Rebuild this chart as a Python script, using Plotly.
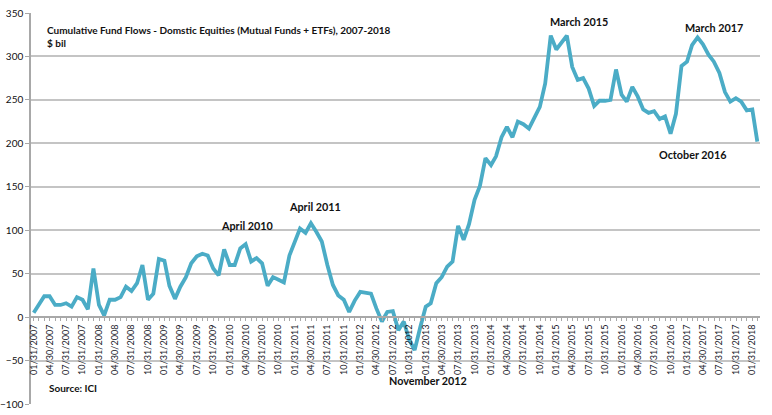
import pandas as pd
import plotly.graph_objects as go

# Month-end dates Jan 2007 .. Feb 2018
dates = pd.date_range("2007-01-31", "2018-02-28", freq="ME")
date_str = [d.strftime("%Y-%m-%d") for d in dates]

flows = [
    5, 15, 24, 24, 14, 14, 16, 12, 23, 20, 9, 56,          # 2007
    14, 2, 20, 20, 23, 35, 30, 39, 60, 20, 27, 67,         # 2008
    65, 36, 21, 35, 46, 62, 70, 73, 71, 56, 48, 78,        # 2009
    60, 60, 79, 84, 64, 68, 62, 36, 46, 43, 40, 71,        # 2010
    87, 102, 97, 108, 98, 87, 60, 37, 25, 20, 6, 19,       # 2011
    29, 28, 27, 10, -5, 6, 7, -15, -5, -26, -38, -12,      # 2012
    12, 16, 39, 46, 58, 64, 105, 89, 107, 135, 151, 183,   # 2013
    175, 185, 207, 219, 207, 225, 222, 217, 229, 242, 269, 324,  # 2014
    308, 316, 324, 288, 273, 275, 263, 243, 249, 249, 250, 285,  # 2015
    256, 248, 265, 254, 239, 235, 237, 228, 231, 211, 234, 289,  # 2016
    294, 313, 322, 314, 302, 294, 281, 259, 248, 252, 248, 238,  # 2017
    239, 202,                                              # 2018
]

tick_vals = date_str[::3]
tick_text = [d.strftime("%m/%d/%Y") for d in dates[::3]]

title_lines = ["Cumulative Fund Flows - Domstic Equities (Mutual Funds + ETFs), 2007-2018", "$ bil"]
labels = ["April 2010", "April 2011", "November 2012", "March 2015", "October 2016", "March 2017"]
label_dates = ["2010-05-10", "2011-05-25", "2013-02-10", "2015-06-05", "2017-02-28", "2017-06-30"]
label_vals = [106, 127, -73, 340, 187, 333]
source = "Source: ICI"

FONT = "Lato"
LINE = "#4BACC6"
GRID = "#c4c4c4"

fig = go.Figure()
fig.add_trace(go.Scatter(x=date_str, y=flows, mode="lines",
                         line=dict(color=LINE, width=3.8), hoverinfo="skip"))

for t, xd, yv in zip(labels, label_dates, label_vals):
    fig.add_annotation(x=xd, y=yv, text="<b>%s</b>" % t, showarrow=False,
                       font=dict(family=FONT, size=10.8, color="#111"),
                       xanchor="center", yanchor="middle")

fig.add_annotation(xref="paper", yref="paper", x=(45 - 31) / 729, y=(404 - 36) / 391,
                   text="<b>%s</b><br><b>%s</b>" % tuple(title_lines), showarrow=False,
                   align="left", xanchor="left", yanchor="middle",
                   font=dict(family=FONT, size=10, color="#111"))
fig.add_annotation(xref="paper", yref="paper", x=(47 - 31) / 729, y=(404 - 388) / 391,
                   text="<b>%s</b>" % source, showarrow=False,
                   xanchor="left", yanchor="middle",
                   font=dict(family=FONT, size=10, color="#111"))

fig.update_layout(
    width=772, height=415,
    margin=dict(l=31, r=12, t=13, b=11),
    paper_bgcolor="white", plot_bgcolor="white",
    showlegend=False,
    xaxis=dict(
        type="date",
        range=["2007-01-16", "2018-03-15"],
        tickmode="array", tickvals=tick_vals, ticktext=tick_text,
        tickangle=-90, ticks="", ticklen=0, ticklabelstandoff=3,
        tickfont=dict(family=FONT, size=9.1, color="#1a1a2a"),
        showgrid=False, zeroline=False,
        showline=True, linecolor="#a8a8a8", linewidth=1.5,
        anchor="free", position=100 / 450,
        minor=dict(ticks="outside", ticklen=3, tickcolor="#a8a8a8", tickwidth=1,
                   dtick="M1", tick0="2007-02-01", showgrid=False),
        automargin=False,
    ),
    yaxis=dict(
        range=[-100, 350], dtick=50, tick0=0,
        showgrid=True, gridcolor=GRID, gridwidth=1.6,
        zeroline=False,
        showline=True, linecolor="#a8a8a8", linewidth=1.5,
        ticks="outside", ticklen=4, tickcolor="#a8a8a8",
        tickfont=dict(family=FONT, size=10, color="#111"),
        automargin=False,
    ),
)

fig.write_html("out.html",
               config={"displayModeBar": False},
               post_script="document.body.style.margin='0';document.body.style.padding='0';")
